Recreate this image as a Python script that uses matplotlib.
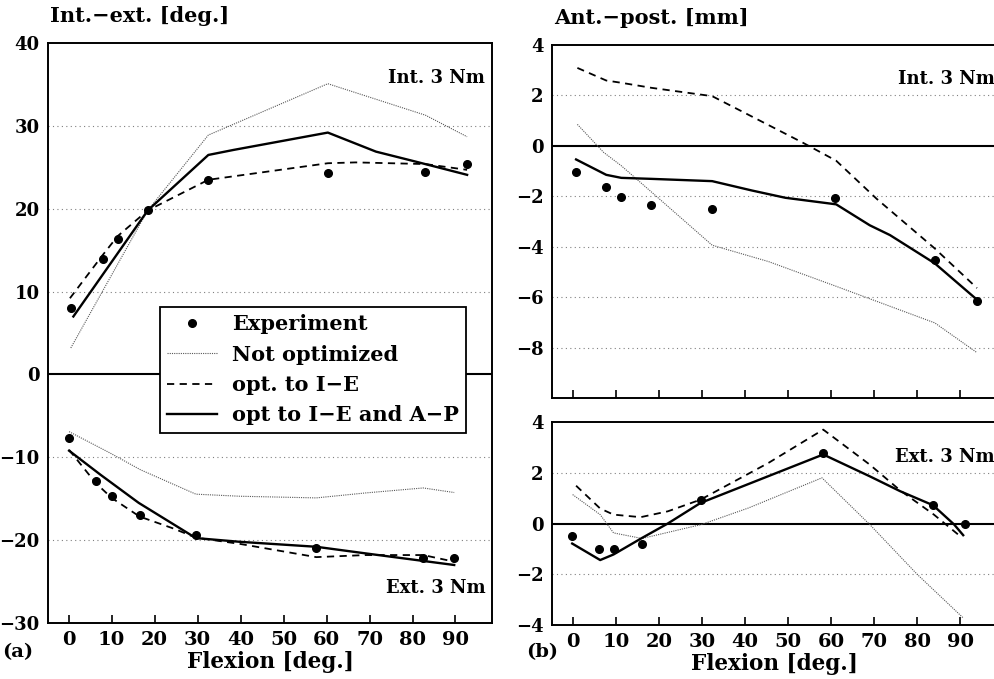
import matplotlib

matplotlib.use("Agg")
import matplotlib.pyplot as plt
import numpy as np

plt.rcParams["font.family"] = "DejaVu Serif"
plt.rcParams["font.weight"] = "bold"
plt.rcParams["axes.labelweight"] = "bold"

# ---- (a) internal-external rotation [deg]
ie_int_exp_x = [0.5, 7.9, 11.4, 18.4, 32.5, 60.3, 83.0, 92.7]
ie_int_exp_y = [8.0, 13.9, 16.3, 19.8, 23.5, 24.3, 24.5, 25.4]
ie_int_not_x = [0.5, 18.4, 32.5, 60.3, 83.0, 92.7]
ie_int_not_y = [3.2, 19.8, 28.9, 35.1, 31.3, 28.7]
ie_int_opt_x = [0.3, 7.9, 11.4, 18.4, 32.5, 60.3, 66.8, 83.0, 92.7]
ie_int_opt_y = [9.2, 14.4, 16.7, 19.8, 23.5, 25.5, 25.6, 25.4, 24.7]
ie_int_both_x = [1.1, 18.4, 32.5, 38.3, 60.3, 71.5, 80.7, 92.7]
ie_int_both_y = [7.0, 19.8, 26.5, 27.1, 29.2, 26.9, 25.7, 24.1]

ie_ext_exp_x = [0.1, 6.3, 10.0, 16.5, 29.6, 57.6, 82.5, 89.7]
ie_ext_exp_y = [-7.7, -12.85, -14.7, -16.95, -19.4, -21.0, -22.2, -22.1]
ie_ext_not_x = [0.1, 9.7, 16.7, 29.6, 39.8, 57.6, 69.1, 82.5, 89.7]
ie_ext_not_y = [-6.9, -9.5, -11.5, -14.45, -14.7, -14.9, -14.3, -13.7, -14.25]
ie_ext_opt_x = [0.1, 6.3, 10.0, 16.5, 24.4, 29.6, 39.8, 57.6, 69.1, 82.5, 89.7]
ie_ext_opt_y = [-9.1, -13.1, -14.9, -17.15, -18.6, -19.7, -20.45, -22.05, -21.8, -21.8, -22.6]
ie_ext_both_x = [0.1, 7.4, 16.3, 29.6, 39.8, 57.6, 69.1, 89.7]
ie_ext_both_y = [-9.2, -12.1, -15.5, -19.75, -20.2, -20.8, -21.6, -23.0]

# ---- (b) anterior-posterior translation [mm], internal moment
ap_int_exp_x = [0.8, 7.8, 11.3, 18.3, 32.4, 61.0, 84.1, 93.9]
ap_int_exp_y = [-1.05, -1.64, -2.03, -2.36, -2.49, -2.06, -4.53, -6.17]
ap_int_not_x = [1.1, 7.2, 11.3, 18.3, 32.4, 45.5, 61.2, 84.1, 93.9]
ap_int_not_y = [0.85, -0.26, -0.79, -1.83, -3.94, -4.59, -5.57, -7.02, -8.2]
ap_int_opt_x = [1.1, 7.8, 11.3, 18.3, 32.4, 53.4, 61.2, 70.6, 84.1, 93.9]
ap_int_opt_y = [3.09, 2.59, 2.5, 2.3, 1.97, 0.13, -0.59, -2.1, -4.07, -5.64]
ap_int_both_x = [0.8, 7.8, 11.3, 18.3, 32.4, 41.6, 49.4, 61.2, 69.0, 73.7, 84.1, 93.9]
ap_int_both_y = [-0.54, -1.15, -1.27, -1.31, -1.40, -1.77, -2.06, -2.32, -3.15, -3.54, -4.66, -6.10]

# ---- (b) external moment
ap_ext_exp_x = [-0.1, 6.2, 9.5, 16.1, 29.7, 58.2, 83.7, 91.1]
ap_ext_exp_y = [-0.50, -1.0, -1.0, -0.80, 0.92, 2.78, 0.72, -0.01]
ap_ext_not_x = [0.0, 6.4, 9.5, 16.1, 29.9, 40.8, 57.9, 69.0, 80.0, 90.7]
ap_ext_not_y = [1.14, 0.35, -0.37, -0.59, -0.04, 0.61, 1.80, -0.04, -2.0, -3.72]
ap_ext_opt_x = [0.8, 6.4, 9.5, 15.8, 22.1, 29.7, 45.5, 58.2, 69.0, 76.1, 83.9, 90.0]
ap_ext_opt_y = [1.49, 0.59, 0.35, 0.25, 0.48, 0.94, 2.39, 3.70, 2.32, 1.30, 0.35, -0.5]
ap_ext_both_x = [-0.1, 6.4, 9.5, 16.1, 22.1, 29.7, 58.2, 69.0, 76.1, 83.7, 88.6, 90.7]
ap_ext_both_y = [-0.79, -1.44, -1.22, -0.57, 0.0, 0.81, 2.72, 1.86, 1.27, 0.72, -0.04, -0.46]

x_ticks = [0, 10, 20, 30, 40, 50, 60, 70, 80, 90]

NOT_KW = dict(color="0.35", lw=0.8, ls=(0, (1, 1)))
OPT_KW = dict(color="black", lw=1.3, ls=(0, (4, 3)))
BOTH_KW = dict(color="black", lw=1.7, ls="-")
EXP_KW = dict(color="black", marker="o", ms=5.5, ls="none")


def style_axes(ax, yticks, grid_vals, show_xlabels=True):
    ax.set_xlim(-4.8, 98.5)
    ax.set_xticks(x_ticks)
    ax.set_yticks(yticks)
    ax.tick_params(axis="x", direction="in", length=6, width=1.2, labelsize=14,
                   labelbottom=show_xlabels, pad=6)
    ax.tick_params(axis="y", direction="in", length=0, labelsize=13, pad=6)
    for s in ax.spines.values():
        s.set_linewidth(1.4)
    for g in grid_vals:
        ax.axhline(g, color="0.5", lw=0.8, ls=(0, (1, 3)), zorder=0)
    ax.axhline(0, color="black", lw=1.5, zorder=1)


def draw(ax, exp_x, exp_y, not_x, not_y, opt_x, opt_y, both_x, both_y):
    ax.plot(not_x, not_y, label="Not optimized", **NOT_KW)
    ax.plot(opt_x, opt_y, label="opt. to I\u2212E", **OPT_KW)
    ax.plot(both_x, both_y, label="opt to I\u2212E and A\u2212P", **BOTH_KW)
    ax.plot(exp_x, exp_y, label="Experiment", **EXP_KW)


fig = plt.figure(figsize=(9.94, 6.79), dpi=100)

# left panel
ax_a = fig.add_axes([0.0483, 0.0825, 0.4467, 0.854])
draw(ax_a, ie_int_exp_x, ie_int_exp_y, ie_int_not_x, ie_int_not_y,
     ie_int_opt_x, ie_int_opt_y, ie_int_both_x, ie_int_both_y)
draw(ax_a, ie_ext_exp_x, ie_ext_exp_y, ie_ext_not_x, ie_ext_not_y,
     ie_ext_opt_x, ie_ext_opt_y, ie_ext_both_x, ie_ext_both_y)
ax_a.set_ylim(-30, 40)
style_axes(ax_a, [-30, -20, -10, 0, 10, 20, 30, 40], [-20, -10, 10, 20, 30])
ax_a.text(0.985, 0.955, "Int. 3 Nm", transform=ax_a.transAxes, ha="right",
          va="top", fontsize=13)
ax_a.text(0.985, 0.045, "Ext. 3 Nm", transform=ax_a.transAxes, ha="right",
          va="bottom", fontsize=13)
handles, labels = ax_a.get_legend_handles_labels()
order = [3, 0, 1, 2]
leg = ax_a.legend([handles[i] for i in order], [labels[i] for i in order],
                  loc="upper left", bbox_to_anchor=(0.252, 0.545), borderaxespad=0,
                  prop={"size": 15, "weight": "bold"}, handlelength=2.4,
                  labelspacing=0.5, fancybox=False, framealpha=1, edgecolor="black",
                  borderpad=0.35, handletextpad=0.7)
leg.get_frame().set_linewidth(1.3)
ax_a.set_xlabel("Flexion [deg.]", fontsize=15.5, labelpad=1)

# right panel, internal moment
ax_b1 = fig.add_axes([0.5553, 0.4138, 0.4475, 0.52])
draw(ax_b1, ap_int_exp_x, ap_int_exp_y, ap_int_not_x, ap_int_not_y,
     ap_int_opt_x, ap_int_opt_y, ap_int_both_x, ap_int_both_y)
ax_b1.set_ylim(-10, 4)
style_axes(ax_b1, [-8, -6, -4, -2, 0, 2, 4], [-8, -6, -4, -2, 2], show_xlabels=False)
ax_b1.text(0.995, 0.93, "Int. 3 Nm", transform=ax_b1.transAxes, ha="right",
           va="top", fontsize=13)

# right panel, external moment
ax_b2 = fig.add_axes([0.5553, 0.0795, 0.4475, 0.299])
draw(ax_b2, ap_ext_exp_x, ap_ext_exp_y, ap_ext_not_x, ap_ext_not_y,
     ap_ext_opt_x, ap_ext_opt_y, ap_ext_both_x, ap_ext_both_y)
ax_b2.set_ylim(-4, 4)
style_axes(ax_b2, [-4, -2, 0, 2, 4], [-2, 2])
ax_b2.text(0.995, 0.87, "Ext. 3 Nm", transform=ax_b2.transAxes, ha="right",
           va="top", fontsize=13)
ax_b2.set_xlabel("Flexion [deg.]", fontsize=15.5, labelpad=1)

fig.text(0.05, 0.977, "Int.\u2212ext. [deg.]", fontsize=15, va="center", ha="left")
fig.text(0.557, 0.973, "Ant.\u2212post. [mm]", fontsize=15, va="center", ha="left")
fig.text(0.002, 0.04, "(a)", fontsize=14, va="center", ha="left")
fig.text(0.529, 0.04, "(b)", fontsize=14, va="center", ha="left")

fig.savefig("out.png", dpi=100)
